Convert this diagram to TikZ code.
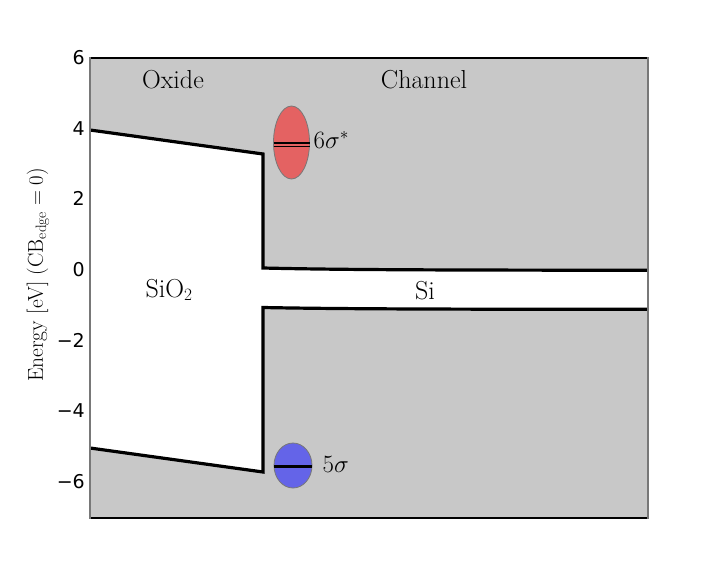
\documentclass[tikz,border=0pt]{standalone}
\usepackage{fontspec}
\newfontfamily\tickfont{DejaVu Sans}
\definecolor{bandgray}{RGB}{200,200,200}
\definecolor{spinegray}{RGB}{120,120,120}
\definecolor{redfill}{RGB}{228,98,98}
\definecolor{bluefill}{RGB}{100,100,232}
\tikzset{
  band/.style={line width=3.2pt, black, line join=miter},
  lbl/.style={font=\fontsize{26}{30}\selectfont, anchor=base, inner sep=0pt},
  ticklbl/.style={font=\tickfont\fontsize{19}{22}\selectfont, anchor=east, inner sep=0pt},
  orbital/.style={draw=spinegray, line width=0.8pt},
  orblbl/.style={font=\fontsize{24.5}{28}\selectfont, anchor=west, inner sep=0pt},
}
\begin{document}
\begin{tikzpicture}[x=1pt,y=-1pt]
\useasboundingbox (0,0) rectangle (720,576);
% background of plot
\fill[bandgray] (90,58) rectangle (648,518);
% white gap region
\fill[white] (90,130) -- (263,154) -- (263,268)
  .. controls (330,269.6) and (420,270.2) .. (648,270.2)
  -- (648,309.3)
  .. controls (420,309.3) and (330,308.8) .. (263,307.5)
  -- (263,472) -- (90,448) -- cycle;
% band edges
\draw[band] (90,130) -- (263,154) -- (263,268)
  .. controls (330,269.6) and (420,270.2) .. (648,270.2);
\draw[band] (90,448) -- (263,472) -- (263,307.5)
  .. controls (330,308.8) and (420,309.3) .. (648,309.3);
% orbitals
\filldraw[orbital, fill=redfill] (291.5,142.5) ellipse [x radius=18, y radius=36.5];
\draw[black, line width=1.3pt] (273.5,143) -- (309.5,143);
\draw[black, line width=1.3pt] (273.5,146.3) -- (309.5,146.3);
\filldraw[orbital, fill=bluefill] (293,465.5) ellipse [x radius=19, y radius=22.5];
\draw[black, line width=3pt] (274,466) -- (312,466);
\node[orblbl] (l6s) at (313.5,140) {$6\sigma^*$};
\node[orblbl] (l5s) at (322.5,464.5) {$5\sigma$};
% region labels
\node[lbl] (oxide) at (173,88) {Oxide};
\node[lbl] (channel) at (424,88) {Channel};
\node[lbl] (sio2) at (169,297) {SiO$_2$};
\node[lbl] (si) at (425,299) {Si};
% spines
\draw[black, line width=1.3pt] (89,58) -- (649,58);
\draw[black, line width=1.3pt] (89,518) -- (649,518);
\draw[spinegray, line width=1.8pt] (90,57.4) -- (90,518.6);
\draw[spinegray, line width=1.8pt] (648,57.4) -- (648,518.6);
% tick labels
\node[ticklbl] (t6) at (85,57.4) {6};
\node[ticklbl] (t4) at (85,128.1) {4};
\node[ticklbl] (t2) at (85,198.8) {2};
\node[ticklbl] (t0) at (85,269.5) {0};
\node[ticklbl] (tm2) at (85,340.2) {−2};
\node[ticklbl] (tm4) at (85,410.9) {−4};
\node[ticklbl] (tm6) at (85,481.6) {−6};
% axis label
\node[font=\fontsize{21.5}{25}\selectfont, rotate=90, inner sep=0pt] (ylab) at (38,275) {Energy [eV] (CB$_{\mathrm{edge}}=0$)};
\end{tikzpicture}
\end{document}
